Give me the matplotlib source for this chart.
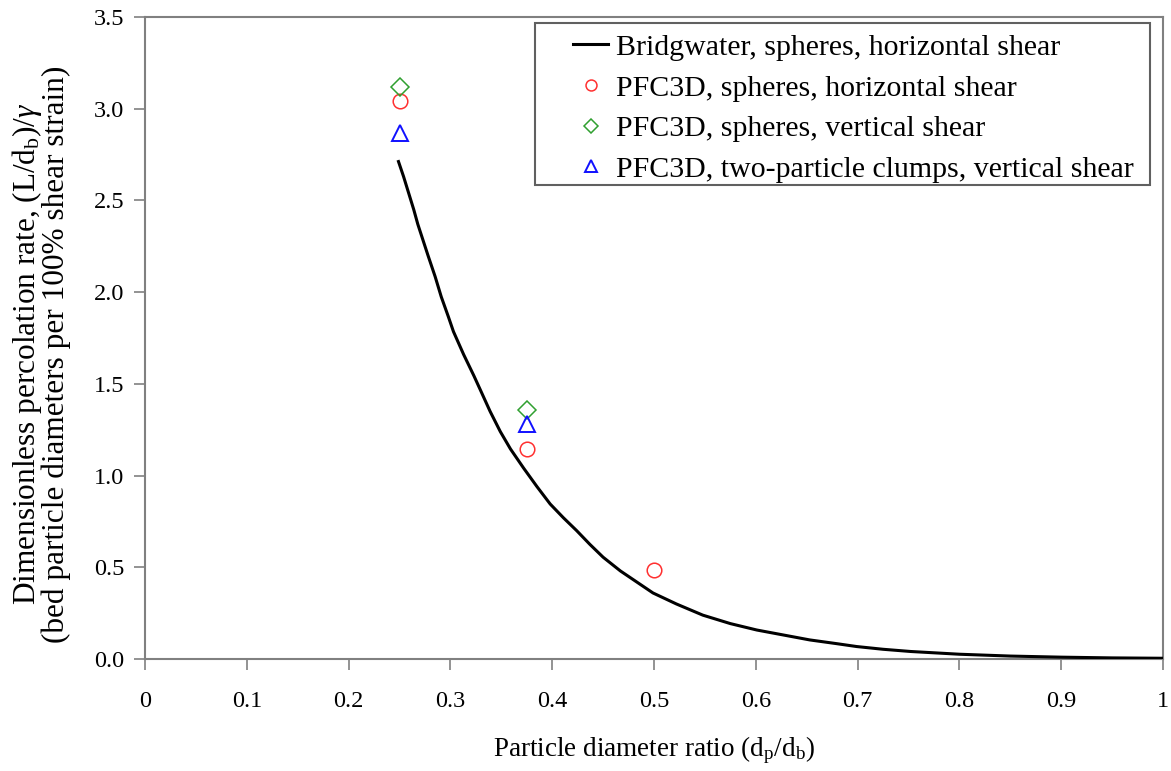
import matplotlib
matplotlib.use("Agg")
import matplotlib.pyplot as plt
from matplotlib.ticker import FixedLocator, FixedFormatter
from matplotlib.patches import Rectangle

plt.rcParams['font.family'] = ['Liberation Serif', 'DejaVu Serif']
plt.rcParams['mathtext.fontset'] = 'custom'
plt.rcParams['mathtext.rm'] = 'Liberation Serif'
plt.rcParams['mathtext.it'] = 'Liberation Serif:italic'

# Bridgwater curve (spheres, horizontal shear)
curve_x = [0.249, 0.254, 0.259, 0.264, 0.268, 0.273, 0.278, 0.285, 0.291, 0.298,
           0.303, 0.313, 0.323, 0.330, 0.339, 0.349, 0.359, 0.372, 0.385, 0.398,
           0.411, 0.424, 0.437, 0.450, 0.467, 0.483, 0.499, 0.522, 0.548, 0.575,
           0.601, 0.627, 0.653, 0.679, 0.699, 0.725, 0.752, 0.784, 0.80, 0.85,
           0.90, 0.95, 1.0]
curve_y = [2.712, 2.63, 2.54, 2.45, 2.37, 2.285, 2.20, 2.085, 1.975, 1.866,
           1.785, 1.660, 1.545, 1.460, 1.35, 1.24, 1.145, 1.04, 0.94, 0.845,
           0.77, 0.70, 0.625, 0.555, 0.480, 0.420, 0.360, 0.300, 0.239, 0.193,
           0.158, 0.131, 0.104, 0.084, 0.068, 0.053, 0.041, 0.031, 0.026, 0.016,
           0.010, 0.006, 0.004]

# PFC3D results
sph_h_x = [0.25, 0.375, 0.50]
sph_h_y = [3.04, 1.145, 0.485]
sph_v_x = [0.25, 0.375]
sph_v_y = [3.12, 1.36]
clump_v_x = [0.25, 0.375]
clump_v_y = [2.87, 1.28]

x_ticks = [0, 0.1, 0.2, 0.3, 0.4, 0.5, 0.6, 0.7, 0.8, 0.9, 1.0]
x_tick_labels = ["0", "0.1", "0.2", "0.3", "0.4", "0.5", "0.6", "0.7", "0.8", "0.9", "1"]
y_ticks = [0.0, 0.5, 1.0, 1.5, 2.0, 2.5, 3.0, 3.5]
y_tick_labels = ["0.0", "0.5", "1.0", "1.5", "2.0", "2.5", "3.0", "3.5"]

labels = ["Bridgwater, spheres, horizontal shear",
          "PFC3D, spheres, horizontal shear",
          "PFC3D, spheres, vertical shear",
          "PFC3D, two-particle clumps, vertical shear"]

W, H = 1171, 771
fig = plt.figure(figsize=(W / 100, H / 100), dpi=100)
L, R, T, B = 145, 1163, 17, 659
ax = fig.add_axes([L / W, 1 - B / H, (R - L) / W, (B - T) / H])

ax.plot(curve_x, curve_y, color='black', lw=2.2, label=labels[0], zorder=3)
ax.plot(sph_h_x, sph_h_y, ls='none', marker='o', ms=10.5, mfc='none', mec='#ff3030',
        mew=1.1, label=labels[1], zorder=4)
ax.plot(sph_v_x, sph_v_y, ls='none', marker='D', ms=9, mfc='none', mec='#30a030',
        mew=1.1, label=labels[2], zorder=4)
ax.plot(clump_v_x, clump_v_y, ls='none', marker='^', ms=12, mfc='none', mec='#1010ff',
        mew=1.4, label=labels[3], zorder=4)

ax.set_xlim(0, 1)
ax.set_ylim(0, 3.5)
ax.xaxis.set_major_locator(FixedLocator(x_ticks))
ax.xaxis.set_major_formatter(FixedFormatter(x_tick_labels))
ax.yaxis.set_major_locator(FixedLocator(y_ticks))
ax.yaxis.set_major_formatter(FixedFormatter(y_tick_labels))

for s in ax.spines.values():
    s.set_color('#808080')
    s.set_linewidth(1.5)

ax.tick_params(axis='both', direction='out', length=8, width=1.2, color='#808080',
               labelsize=17.5, labelcolor='black')
ax.tick_params(axis='x', pad=15)
ax.tick_params(axis='y', pad=7)

ax.set_xlabel("Particle diameter ratio (d$_\\mathrm{p}$/d$_\\mathrm{b}$)", fontsize=19.5, labelpad=16)
ax.set_ylabel("Dimensionless percolation rate, (L/d$_\\mathrm{b}$)/$\\gamma$\n"
              "(bed particle diameters per 100% shear strain)", fontsize=22.5, labelpad=16,
              linespacing=0.92)
ax.yaxis.label.set_y(0.475)

# legend frame (drawn as a rectangle matching the reference box)
bx0, bx1, by0, by1 = 535, 1150, 23, 185
to_ax = lambda px, py: ((px - L) / (R - L), (B - py) / (B - T))
ax0, ay1 = to_ax(bx0, by1)
ax1, ay0 = to_ax(bx1, by0)
ax.add_patch(Rectangle((ax0, ay1), ax1 - ax0, ay0 - ay1, transform=ax.transAxes,
                       facecolor='white', edgecolor='#606060', lw=1.5, zorder=5))

leg = ax.legend(loc='upper right', bbox_to_anchor=to_ax(1134, 34), borderaxespad=0,
                fontsize=21.5, frameon=False, handlelength=1.17, handletextpad=0.27,
                borderpad=0.0, labelspacing=0.46, markerscale=0.75)
leg.set_zorder(6)

fig.savefig("out.png", dpi=100)
